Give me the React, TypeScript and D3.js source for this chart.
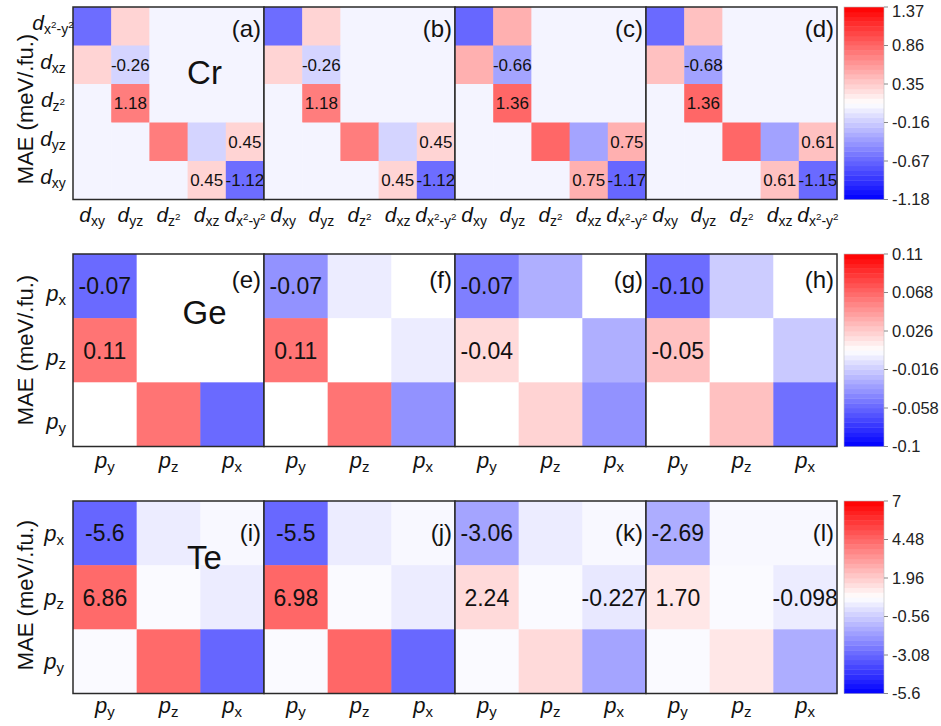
import React from "react";
import * as d3 from "d3";

// ---------- categories ----------
const dOrbitals = ["xy", "yz", "z²", "xz", "x²-y²"]; // x categories (left -> right)
const dRows = ["x²-y²", "xz", "z²", "yz", "xy"]; // y categories (top -> bottom)
const pOrbitals = ["y", "z", "x"]; // x categories
const pRows = ["x", "z", "y"]; // y categories (top -> bottom)

// ---------- panel labels ----------
const crPanelLabels = ["(a)", "(b)", "(c)", "(d)"];
const gePanelLabels = ["(e)", "(f)", "(g)", "(h)"];
const tePanelLabels = ["(i)", "(j)", "(k)", "(l)"];

// ---------- colorbar ticks ----------
const crTicks = [1.37, 0.86, 0.35, -0.16, -0.67, -1.18];
const geTicks = [0.11, 0.068, 0.026, -0.016, -0.058, -0.1];
const teTicks = [7, 4.48, 1.96, -0.56, -3.08, -5.6];
const crTickLabels = ["1.37", "0.86", "0.35", "-0.16", "-0.67", "-1.18"];
const geTickLabels = ["0.11", "0.068", "0.026", "-0.016", "-0.058", "-0.1"];
const teTickLabels = ["7", "4.48", "1.96", "-0.56", "-3.08", "-5.6"];

// ---------- cell values (rows top->bottom, cols left->right) ----------
const crA = [
  [-1.12, 0.45, 0, 0, 0],
  [0.45, -0.26, 0, 0, 0],
  [0, 1.18, 0, 0, 0],
  [0, 0, 1.18, -0.26, 0.45],
  [0, 0, 0, 0.45, -1.12],
];
const crB = [
  [-1.12, 0.45, 0, 0, 0],
  [0.45, -0.26, 0, 0, 0],
  [0, 1.18, 0, 0, 0],
  [0, 0, 1.18, -0.26, 0.45],
  [0, 0, 0, 0.45, -1.12],
];
const crC = [
  [-1.17, 0.75, 0, 0, 0],
  [0.75, -0.66, 0, 0, 0],
  [0, 1.36, 0, 0, 0],
  [0, 0, 1.36, -0.66, 0.75],
  [0, 0, 0, 0.75, -1.17],
];
const crD = [
  [-1.15, 0.61, 0, 0, 0],
  [0.61, -0.68, 0, 0, 0],
  [0, 1.36, 0, 0, 0],
  [0, 0, 1.36, -0.68, 0.61],
  [0, 0, 0, 0.61, -1.15],
];
const geE = [
  [-0.097, null, null],
  [0.1, null, null],
  [null, 0.1, -0.097],
];
const geF = [
  [-0.07, -0.008, null],
  [0.1, null, -0.008],
  [null, 0.1, -0.07],
];
const geG = [
  [-0.083, -0.05, null],
  [0.03, null, -0.05],
  [null, 0.035, -0.07],
];
const geH = [
  [-0.095, -0.03, null],
  [0.048, null, -0.032],
  [null, 0.048, -0.093],
];
const teI = [
  [-5.6, -0.1, 0.4],
  [6.86, 0.5, -0.1],
  [0.5, 6.86, -5.6],
];
const teJ = [
  [-5.5, -0.1, 0.4],
  [6.98, 0.5, -0.1],
  [0.5, 6.98, -5.5],
];
const teK = [
  [-3.06, -0.1, 0.4],
  [2.24, 0.5, -0.227],
  [0.5, 2.24, -3.06],
];
const teL = [
  [-2.69, 0.4, 0.4],
  [1.7, 0.5, -0.098],
  [0.5, 1.7, -2.69],
];

// ---------- annotations ----------
const crAnnA = [
  [null, null, null, null, null],
  [null, "-0.26", null, null, null],
  [null, "1.18", null, null, null],
  [null, null, null, null, "0.45"],
  [null, null, null, "0.45", "-1.12"],
];
const crAnnB = crAnnA;
const crAnnC = [
  [null, null, null, null, null],
  [null, "-0.66", null, null, null],
  [null, "1.36", null, null, null],
  [null, null, null, null, "0.75"],
  [null, null, null, "0.75", "-1.17"],
];
const crAnnD = [
  [null, null, null, null, null],
  [null, "-0.68", null, null, null],
  [null, "1.36", null, null, null],
  [null, null, null, null, "0.61"],
  [null, null, null, "0.61", "-1.15"],
];
const geAnnE = [["-0.07", null, null], ["0.11", null, null], [null, null, null]];
const geAnnF = [["-0.07", null, null], ["0.11", null, null], [null, null, null]];
const geAnnG = [["-0.07", null, null], ["-0.04", null, null], [null, null, null]];
const geAnnH = [["-0.10", null, null], ["-0.05", null, null], [null, null, null]];
const teAnnI = [["-5.6", null, null], ["6.86", null, null], [null, null, null]];
const teAnnJ = [["-5.5", null, null], ["6.98", null, null], [null, null, null]];
const teAnnK = [["-3.06", null, null], ["2.24", null, "-0.227"], [null, null, null]];
const teAnnL = [["-2.69", null, null], ["1.70", null, "-0.098"], [null, null, null]];

const FONT = "'Liberation Sans', Arial, Helvetica, sans-serif";

const W = 941;
const H = 726;
const plotLeft = 73;
const panelW = 191;
const rowH = 192.5;
const cbX = 844;
const cbW = 40;
const nBands = 40;

function makeCmap(min: number, max: number) {
  const lo = d3.interpolateRgb("#0000ff", "#ffffff");
  const hi = d3.interpolateRgb("#ffffff", "#ff0000");
  return (v: number) => {
    const t = Math.max(0, Math.min(1, (v - min) / (max - min)));
    return t < 0.5 ? lo(t * 2) : hi((t - 0.5) * 2);
  };
}

function OrbLabel({ x, y, main, sub, mainSize, subSize, subDy }: any) {
  const parts: string[] = sub.split(/(²)/).filter((s: string) => s.length > 0);
  const supSize = subSize * 0.7;
  const supShift = subSize * 0.45;
  let prevSup = false;
  const spans = parts.map((s, i) => {
    const isSup = s === "²";
    let dy = 0;
    if (i === 0) dy = subDy + (isSup ? -supShift : 0);
    else if (isSup && !prevSup) dy = -supShift;
    else if (!isSup && prevSup) dy = supShift;
    prevSup = isSup;
    return (
      <tspan key={i} fontSize={isSup ? supSize : subSize} dy={dy}>
        {isSup ? "2" : s}
      </tspan>
    );
  });
  return (
    <text x={x} y={y} textAnchor="middle" fontFamily={FONT} fill="#111">
      <tspan fontStyle="italic" fontSize={mainSize}>{main}</tspan>
      {spans}
    </text>
  );
}

type RowCfg = {
  top: number;
  data: (number | null)[][][];
  ann: (string | null)[][][];
  xcats: string[];
  ycats: string[];
  main: string;
  mainSize: number;
  subSize: number;
  subDy: number;
  yLabelX: number;
  yLabelDy: number;
  xLabelBase: number;
  panelLabels: string[];
  panelLabelDy: number;
  element: string;
  elementBase: number;
  annSize: number;
  ticks: number[];
  tickLabels: string[];
  titleCenter: number;
};

function Row({ cfg }: { cfg: RowCfg }) {
  const min = d3.min(cfg.ticks) as number;
  const max = d3.max(cfg.ticks) as number;
  const cmap = makeCmap(min, max);
  const blend = (c: string) => d3.interpolateRgb("#ffffff", c)(0.6);
  const top = cfg.top;
  const bottom = top + rowH;
  const yScale = d3.scaleBand<string>().domain(cfg.ycats).range([top, bottom]);
  const cbScale = d3.scaleLinear().domain([min, max]).range([bottom, top]);
  const bands = d3.range(nBands);
  const bandH = rowH / nBands;

  return (
    <g>
      {cfg.data.map((mat, p) => {
        const x0 = plotLeft + p * panelW;
        const xScale = d3.scaleBand<string>().domain(cfg.xcats).range([x0, x0 + panelW]);
        return (
          <g key={p}>
            {mat.map((row, ri) =>
              row.map((v, ci) => (
                <rect
                  key={`${ri}-${ci}`}
                  x={xScale(cfg.xcats[ci])}
                  y={yScale(cfg.ycats[ri])}
                  width={xScale.bandwidth() + 0.5}
                  height={yScale.bandwidth() + 0.5}
                  fill={v === null ? "#ffffff" : blend(cmap(v))}
                />
              ))
            )}
            {cfg.ann[p].map((row, ri) =>
              row.map((t, ci) =>
                t ? (
                  <text
                    key={`a${ri}-${ci}`}
                    x={(xScale(cfg.xcats[ci]) as number) + xScale.bandwidth() / 2}
                    y={(yScale(cfg.ycats[ri]) as number) + yScale.bandwidth() / 2}
                    dy="0.36em"
                    textAnchor="middle"
                    fontFamily={FONT}
                    fontSize={cfg.annSize}
                    fill="#111"
                  >
                    {t}
                  </text>
                ) : null
              )
            )}
            <rect x={x0} y={top} width={panelW} height={rowH} fill="none" stroke="#2a2a2a" strokeWidth={1.5} />
            <text
              x={x0 + panelW - 3}
              y={top + cfg.panelLabelDy}
              textAnchor="end"
              fontFamily={FONT}
              fontSize={24}
              fill="#111"
            >
              {cfg.panelLabels[p]}
            </text>
            {cfg.xcats.map((c) => (
              <OrbLabel
                key={c}
                x={(xScale(c) as number) + xScale.bandwidth() / 2}
                y={cfg.xLabelBase}
                main={cfg.main}
                sub={c}
                mainSize={cfg.mainSize}
                subSize={cfg.subSize}
                subDy={cfg.subDy}
              />
            ))}
          </g>
        );
      })}
      <text
        x={plotLeft + panelW * 0.5 + 36}
        y={top + cfg.elementBase}
        textAnchor="middle"
        fontFamily={FONT}
        fontSize={33}
        fill="#111"
      >
        {cfg.element}
      </text>
      {cfg.ycats.map((c) => (
        <OrbLabel
          key={c}
          x={cfg.yLabelX}
          y={(yScale(c) as number) + yScale.bandwidth() / 2 + cfg.yLabelDy}
          main={cfg.main}
          sub={c}
          mainSize={cfg.mainSize}
          subSize={cfg.subSize}
          subDy={cfg.subDy}
        />
      ))}
      <text
        transform={`translate(33,${cfg.titleCenter}) rotate(-90)`}
        textAnchor="middle"
        fontFamily={FONT}
        fontSize={22}
        fill="#111"
      >
        MAE (meV/.fu.)
      </text>
      {/* colorbar */}
      {bands.map((i) => (
        <rect
          key={i}
          x={cbX}
          y={bottom - (i + 1) * bandH}
          width={cbW}
          height={bandH + 0.4}
          fill={cmap(min + ((i + 0.5) / nBands) * (max - min))}
        />
      ))}
      <rect x={cbX} y={top} width={cbW} height={rowH} fill="none" stroke="#bbbbbb" strokeWidth={0.6} />
      {cfg.ticks.map((t, i) => (
        <g key={i}>
          <line x1={cbX + cbW} x2={cbX + cbW + 4} y1={cbScale(t)} y2={cbScale(t)} stroke="#888" strokeWidth={1} />
          <text
            x={cbX + cbW + 8}
            y={Math.max(cbScale(t), 11)}
            dy="0.36em"
            fontFamily={FONT}
            fontSize={16.5}
            fill="#222"
          >
            {cfg.tickLabels[i]}
          </text>
        </g>
      ))}
    </g>
  );
}

export default function App() {
  const rows: RowCfg[] = [
    {
      top: 7,
      data: [crA, crB, crC, crD],
      ann: [crAnnA, crAnnB, crAnnC, crAnnD],
      xcats: dOrbitals,
      ycats: dRows,
      main: "d",
      mainSize: 21,
      subSize: 14,
      subDy: 4,
      yLabelX: 53,
      yLabelDy: 4,
      xLabelBase: 222,
      panelLabels: crPanelLabels,
      panelLabelDy: 30,
      element: "Cr",
      elementBase: 77,
      annSize: 17,
      ticks: crTicks,
      tickLabels: crTickLabels,
      titleCenter: 109,
    },
    {
      top: 254,
      data: [geE, geF, geG, geH],
      ann: [geAnnE, geAnnF, geAnnG, geAnnH],
      xcats: pOrbitals,
      ycats: pRows,
      main: "p",
      mainSize: 22,
      subSize: 15,
      subDy: 4,
      yLabelX: 56,
      yLabelDy: 15,
      xLabelBase: 468,
      panelLabels: gePanelLabels,
      panelLabelDy: 34,
      element: "Ge",
      elementBase: 70,
      annSize: 23,
      ticks: geTicks,
      tickLabels: geTickLabels,
      titleCenter: 350,
    },
    {
      top: 501,
      data: [teI, teJ, teK, teL],
      ann: [teAnnI, teAnnJ, teAnnK, teAnnL],
      xcats: pOrbitals,
      ycats: pRows,
      main: "p",
      mainSize: 22,
      subSize: 15,
      subDy: 4,
      yLabelX: 54,
      yLabelDy: 8,
      xLabelBase: 713,
      panelLabels: tePanelLabels,
      panelLabelDy: 40,
      element: "Te",
      elementBase: 68,
      annSize: 23,
      ticks: teTicks,
      tickLabels: teTickLabels,
      titleCenter: 595,
    },
  ];
  return (
    <svg
      width={W}
      height={H}
      viewBox={`0 0 ${W} ${H}`}
      style={{ position: "absolute", left: 0, top: 0, background: "#fff" }}
    >
      <rect x={0} y={0} width={W} height={H} fill="#fff" />
      {rows.map((r, i) => (
        <Row key={i} cfg={r} />
      ))}
    </svg>
  );
}
